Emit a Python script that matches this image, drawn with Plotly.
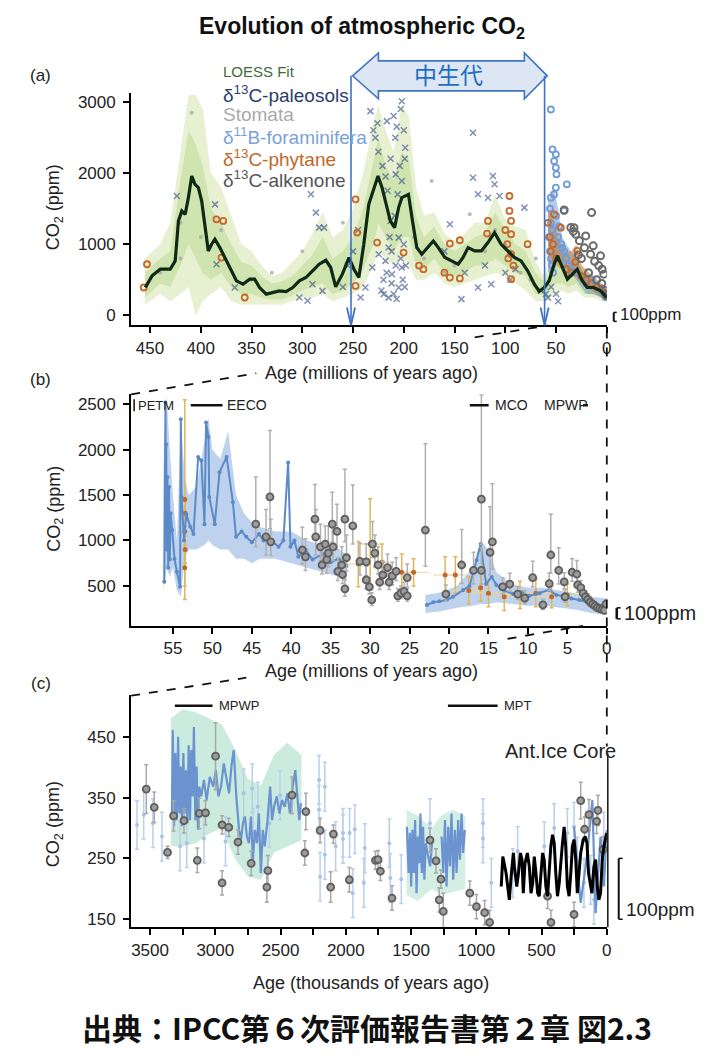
import plotly.graph_objects as go

W, H = 720, 1059
FONT = "Liberation Sans, Arial, sans-serif"
CJK = "Noto Sans CJK JP, sans-serif"

# ---------------- panel (a): 460 Myr ----------------
loess_age = [454.6, 448, 439.9, 430.1, 425.2, 422, 418.7, 415.4, 412.2, 408.9, 405.7, 402.4,
             399.1, 395.9, 392.6, 389.3, 386.1, 381.2, 376.3, 371.4, 364.9, 358.4, 351.8, 347,
             342.1, 335.5, 329, 322.5, 316, 309.4, 302.9, 296.4, 289.9, 283.4, 276.8, 272,
             267.1, 260.5, 254, 249.1, 244.3, 239.4, 234.5, 229.6, 225.4, 221.4, 218.2, 213.3,
             209.1, 205.1, 201.9, 195.4, 191.4, 187.2, 182.3, 175.8, 170.9, 166, 159.5, 153,
             146.4, 141.6, 136.7, 130.1, 123.6, 117.1, 110.6, 104.1, 97.5, 91, 84.5, 78, 71.4,
             66.6, 61.7, 56.8, 51.9, 48.6, 43.7, 38.8, 33.9, 29.1, 24.2, 19.3, 12.7, 6.2, 0]
loess_co2 = [392, 556, 649, 649, 766, 1327, 1467, 1420, 1654, 1958, 1841, 1794,
             1607, 1233, 906, 1000, 1070, 953, 813, 673, 486, 439, 509, 509,
             392, 299, 322, 345, 336, 392, 486, 532, 626, 719, 775, 673,
             402, 579, 813, 649, 532, 999, 1560, 1794, 1958, 1794, 1607, 1327,
             1233, 1514, 1654, 1701, 1327, 953, 860, 976, 1046, 953, 813, 766,
             719, 813, 953, 906, 906, 1023, 1163, 999, 906, 813, 766, 626, 439,
             336, 392, 486, 719, 836, 673, 509, 579, 649, 486, 392, 392, 345, 252]

band_a_age = [455, 440, 430, 420, 412, 405, 398, 390, 380, 370, 360, 350, 340, 330, 320, 310,
              300, 290, 280, 270, 260, 250, 240, 230, 225, 218, 210, 202, 195, 188, 180, 170,
              160, 150, 140, 130, 120, 110, 100, 90, 80, 70, 62, 56, 50, 44, 38, 30, 22, 12, 5, 0]
band_a_outer_hi = [800, 1000, 1300, 2300, 3100, 3100, 2900, 2000, 1800, 1400, 1000, 900, 700, 550,
                   600, 750, 900, 1150, 1450, 1100, 1200, 1500, 2000, 2700, 2950, 2600, 2300, 2950,
                   2800, 1800, 1400, 1450, 1150, 1050, 1150, 1300, 1300, 1700, 1350, 1250, 1200,
                   750, 550, 700, 1400, 1000, 800, 900, 650, 550, 450, 380]
band_a_outer_lo = [150, 300, 200, 300, 400, 0, 200, 300, 400, 200, 150, 150, 150, 150, 150, 200,
                   250, 250, 300, 200, 250, 300, 400, 700, 900, 800, 700, 800, 700, 500, 500, 600,
                   450, 400, 450, 500, 550, 600, 550, 450, 350, 200, 200, 250, 300, 350, 300, 350,
                   250, 250, 200, 180]
band_a_inner_hi = [600, 800, 900, 1900, 2600, 2400, 2100, 1500, 1300, 1000, 750, 700, 550, 450,
                   480, 550, 700, 850, 1100, 800, 900, 1100, 1500, 2200, 2500, 2100, 1900, 2300,
                   2200, 1400, 1100, 1250, 1000, 900, 1000, 1100, 1150, 1450, 1200, 1000, 900,
                   600, 480, 600, 1100, 850, 650, 780, 550, 470, 400, 320]
band_a_inner_lo = [250, 450, 400, 700, 1000, 800, 600, 500, 600, 400, 300, 300, 250, 220, 220, 280,
                   350, 400, 450, 300, 350, 450, 650, 1000, 1300, 1100, 900, 1100, 1100, 700, 650,
                   800, 600, 550, 600, 700, 700, 800, 700, 600, 550, 300, 280, 350, 450, 450, 400,
                   450, 300, 300, 250, 200]

foram_band_age = [58, 52, 48, 44, 40, 35, 30, 25, 20, 15, 10, 5, 0]
foram_band_hi = [1600, 1800, 1500, 1100, 1000, 900, 800, 650, 550, 600, 500, 450, 350]
foram_band_lo = [600, 700, 800, 700, 650, 600, 500, 400, 300, 300, 280, 250, 200]
phyt_band_age = [58, 54, 50, 45, 40, 35, 30, 25, 20, 15, 10, 5, 0]
phyt_band_hi = [1500, 1400, 1200, 1000, 900, 900, 1000, 700, 650, 550, 450, 400, 350]
phyt_band_lo = [700, 800, 700, 650, 600, 550, 580, 450, 400, 350, 300, 250, 220]

paleosol_age = [232.9, 228, 216.6, 208.4, 201.9, 201.9, 198.6, 208, 215, 218, 211.7, 205, 219.8,
                212, 202, 205, 213, 224.7, 231, 237.8, 242.6, 210, 207, 203, 200, 199, 204, 206,
                209, 214, 217, 220, 222, 210, 207, 215, 203, 200, 198, 201, 199, 225, 221, 218,
                216, 213, 230, 226, 212, 208, 131.8, 126.9, 131.8, 112.2, 110.6, 117.1, 105.7,
                81.2, 154.6, 143.2, 126.9, 113.9, 291.5, 286.6, 283.4, 278.5, 386, 423.6, 302.9,
                294.8, 280.1, 290, 366.5, 384.5, 120, 100, 95, 90, 140, 160, 60, 58, 55, 50, 65,
                48, 245, 250, 255, 260]
paleosol_co2 = [2869, 2495, 2729, 2495, 3009, 1888, 2355, 1981, 953, 766, 579, 392, 299,
                450, 673, 1093, 1327, 860, 673, 392, 252, 2800, 2650, 2900, 2600, 2200, 2100, 1700,
                1400, 1100, 600, 500, 350, 300, 230, 250, 800, 1000, 700, 500, 400, 2300, 2100, 1950,
                1750, 2200, 2600, 2700, 900, 700, 2565, 1701, 1934, 1958, 1841, 1654, 1677,
                1514, 1280, 229, 392, 439, 1701, 1444, 1233, 1233, 1560, 1677, 252,
                205, 345, 439, 392, 719, 700, 600, 500, 650, 600, 900, 300, 250, 400, 300, 350,
                200, 1200, 900, 700, 400]

stomata_age = [408.9, 172.5, 135, 100, 90, 85, 75, 120, 150, 180, 190, 260, 300, 330, 350, 380,
               420, 440, 60, 40, 30, 20, 10, 5, 160, 110, 95, 70, 420, 400]
stomata_co2 = [2845, 1888, 1420, 1000, 800, 600, 500, 900, 700, 800, 1100, 1300, 900, 600, 500,
               1200, 800, 600, 400, 600, 700, 500, 350, 300, 600, 1200, 900, 800, 1300, 1100]

foram_age = [55.1, 53.5, 50.2, 51.9, 50.2, 49.6, 39.4, 50.2, 55.1, 42.1, 56, 55, 54, 53, 52, 56,
             55, 54, 53, 50, 48, 45, 42, 40, 35, 30, 20, 15, 10, 5, 2, 1, 57, 47, 44, 38]
foram_co2 = [2892, 2331, 2261, 2168, 2075, 1981, 1841, 1794, 1654, 1467, 1500, 1300, 1200, 1000,
             1700, 900, 800, 700, 600, 1400, 1100, 1000, 900, 800, 650, 600, 450, 500, 400, 350,
             300, 260, 1100, 1250, 950, 700]

phytane_age = [247.5, 245.9, 226.3, 200.2, 154.6, 144.8, 154.6, 144.8, 180.7, 95.9, 95.9, 94.3,
               94.3, 94.3, 94.3, 117.1, 118, 78, 52, 53, 45.3, 29, 31, 384.5, 377.9, 379.6, 456.2,
               453, 356.7, 247.5, 185, 160, 100, 98, 97, 92, 58, 56, 55, 50, 40, 35, 25, 20, 15,
               10, 5, 2]
phytane_co2 = [1631, 1163, 1023, 883, 1009, 1056, 532, 520, 649, 1677, 1467, 1327,
               1140, 860, 509, 1327, 1150, 1000, 1420, 1000, 1233, 906, 750, 1350, 1327, 813, 392,
               719, 252, 415, 700, 600, 1200, 1000, 800, 700, 1300, 1100, 900, 800, 650, 600, 550,
               500, 450, 400, 380, 320]

alk_a_age = [15, 42, 35.5, 33, 30.6, 20.8, 13.4, 6.2, 4.6, 3, 32.3, 27, 22, 16, 12, 8, 25, 28, 18,
             10, 5, 2, 1, 0.5]
alk_a_co2 = [1444, 1480, 1234, 1180, 1140, 1117, 977, 837, 649, 580, 1233, 1050, 950, 860, 760,
             700, 800, 850, 600, 500, 450, 350, 300, 280]

mesozoic_bounds = [252, 61.3]

# ---------------- panel (b): 60 Myr ----------------
b_boron_age = [56.1, 55.95, 55.9, 55.85, 55.8, 55.7, 55.6, 55.5, 55.4, 55.3, 55.1, 54.8, 54.5, 54.1,
               54.0, 53.9, 53.6, 53.3, 52.8, 52.4, 51.8, 51.4, 51.0, 50.8, 50.5, 50.4, 49.7, 49.1,
               48.2, 47.4, 47.0, 46.3, 45.7, 45.0, 44.1, 43.5, 42.9, 42.3, 41.6, 41.0, 40.4, 40.1,
               39.6, 39.1, 38.2, 37.3, 36.0, 35.0, 34.0, 33.0, None, 22.8, 22.0, 21.2, 20.3, 19.5,
               18.2, 17.4, 16.5, 16.0, 15.3, 14.6, 14.0, 13.0, 11.9, 10.8, 9.8, 8.5, 7.3, 6.4, 5.6,
               4.5, 3.5, 2.5, 1.5, 0.3]
b_boron_co2 = [545, 2520, 1200, 2060, 900, 1700, 700, 1590, 790, 1300, 1115, 800, 655, 490,
               2335, 1480, 1000, 1290, 1150, 1070, 1920, 1880, 1180, 2300, 2140, 1480, 1180, 1750,
               1920, 1420, 1040, 1100, 1040, 980, 1070, 1000, 1040, 980, 930, 1000, 1860, 930,
               1000, 820, 900, 790, 850, 760, 800, 720, None, 290, 320, 330, 345, 380,
               455, 500, 785, 960, 520, 600, 510, 450, 410, 430, 390, 420, 455, 400, 390,
               360, 345, 320, 270, 300]

b_band1_age = [56.2, 55.8, 55.4, 55.0, 54.5, 54.0, 53.5, 53.0, 52.0, 51.0, 50.5, 50.0, 49.0, 48.0,
               47.0, 46.0, 45.0, 44.0, 42.0, 40.0, 38.0, 36.0, 34.0, 33.0]
b_band1_hi = [1800, 2600, 2000, 1500, 1000, 2300, 1700, 1500, 1600, 2100, 2350, 2000, 1900, 2200,
              1500, 1300, 1200, 1150, 1100, 1100, 1000, 950, 900, 850]
b_band1_lo = [450, 700, 600, 700, 450, 380, 800, 900, 900, 950, 1000, 950, 900, 900, 800, 800,
              750, 800, 800, 750, 700, 650, 600, 550]
b_band2_age = [23, 21, 19, 17, 16, 15, 14, 12, 10, 8, 6, 4, 2, 0]
b_band2_hi = [400, 430, 500, 700, 1000, 900, 650, 520, 480, 480, 450, 420, 380, 360]
b_band2_lo = [200, 220, 260, 280, 300, 300, 320, 300, 280, 280, 260, 240, 200, 180]

b_alk_age = [44.5, 42.7, 43.2, 42.6, 38.6, 38.2, 37.0, 36.9, 36.3, 36.1, 35.7, 35.5, 35.3, 34.8,
             34.7, 34.2, 34.1, 33.6, 33.5, 33.2, 33.0, 33.2, 32.2, 31.3, 30.5, 30.5, 30.1, 29.8,
             29.7, 29.4, 29.0, 28.8, 28.4, 27.8, 27.6, 27.2, 26.7, 26.5, 26.1, 25.7, 25.3, 25.3,
             23.0, 20.4, 18.4, 16.9, 15.9, 15.9, 14.8, 14.5, 13.2, 12.3, 11.3, 10.4, 9.4, 8.1,
             7.3, 7.1, 6.1, 5.4, 5.3, 4.4, 3.8, 3.7, 3.3, 3.0, 2.7, 2.4, 2.1, 1.8, 1.5, 1.2, 0.9,
             0.6, 0.3, 0.1]
b_alk_co2 = [1180, 1480, 1040, 985, 895, 820, 1235, 1040, 930, 730, 960, 790, 860, 1180,
             930, 1100, 660, 730, 625, 1235, 810, 467, 1160, 770, 765, 565, 490, 345,
             960, 860, 730, 540, 620, 700, 540, 610, 660, 390, 420, 440, 390, 590,
             1115, 410, 730, 670, 1455, 670, 870, 985, 490, 520, 410, 365, 590, 290,
             525, 840, 670, 545, 380, 650, 630, 510, 480, 420, 380, 350, 320, 300, 280, 260, 250,
             240, 230, 300]
b_alk_up = [520, 730, 300, 250, 250, 200, 380, 300, 250, 200, 200, 200, 300, 350,
            200, 300, 150, 200, 150, 550, 250, 100, 450, 200, 200, 150, 100, 80,
            250, 200, 200, 100, 150, 150, 100, 150, 150, 80, 80, 100, 80, 150,
            950, 100, 390, 200, 1150, 250, 500, 640, 100, 120, 80, 80, 180, 60,
            120, 450, 250, 100, 80, 150, 150, 100, 80, 80, 60, 60, 60, 50, 50, 40, 40,
            40, 40, 50]
b_alk_dn = [250, 350, 200, 150, 150, 150, 200, 200, 150, 100, 150, 150, 150, 200,
            150, 200, 100, 100, 100, 250, 150, 80, 200, 150, 150, 100, 80, 60,
            150, 150, 100, 80, 100, 100, 80, 100, 100, 60, 60, 60, 60, 100,
            400, 80, 200, 150, 500, 150, 250, 300, 80, 80, 60, 60, 100, 50,
            80, 200, 150, 80, 60, 100, 100, 80, 60, 60, 50, 50, 50, 40, 40, 40, 40,
            30, 30, 40]

b_phyt_age = [53.5, 53.45, 53.5, 53.45, 53.5, 31.5, 30.0, 28.5, 26.0, 24.5, 20.5, 19.2, 17.5, 16.0,
              15.0, 13.0, 11.0, 9.0, 7.0, 5.0]
b_phyt_co2 = [1450, 1300, 1100, 900, 700, 740, 960, 760, 650, 650, 620, 620, 450, 480,
              420, 380, 400, 420, 380, 400]
b_phyt_yerr = [1100, 150, 150, 150, 200, 250, 500, 200, 200, 150, 200, 200, 150, 150,
               150, 150, 150, 150, 120, 120]
b_phyt_xerr = [0.1, 0.1, 0.1, 0.1, 0.1, 1.5, 1.5, 1.0, 2.0, 2.0, 1.5, 1.5, 2.0, 1.0,
               2.0, 2.0, 2.0, 2.0, 2.0, 1.5]

# ---------------- panel (c): 3.6 Myr (kyr) ----------------
c_boron_age = [3333, 3326, 3316, 3306, 3295, 3285, 3275, 3265, 3255, 3245, 3235, 3224, 3214, 3204,
               3194, 3184, 3174, 3164, 3153, 3143, 3133, 3123, 3108, 3087, 3067, 3042, 3016, 2996,
               2976, 2956, 2935, 2915, 2895, 2874, 2859, 2839, 2818, 2803, 2788, 2773, 2758, 2742,
               2727, 2712, 2697, 2681, 2666, 2651, 2636, 2621, 2600, 2580, 2565, 2550, 2529, 2509,
               2489, 2468, 2448, 2428, 2407, 2387, 2372, 2357, 2344, None,
               1532, 1519, 1509, 1499, 1489, 1479, 1469, 1458, 1448, 1438, 1428, 1418, 1408, 1398,
               1387, 1372, 1354, 1337, None,
               1266, 1253, 1240, 1228, 1215, 1202, 1190, 1177, 1164, 1151, 1139, 1126, 1113, 1101,
               1088, None, 251, 200, 149, 111, 86, 48, 22, 0]
c_boron_co2 = [319, 461, 303, 423, 313, 450, 324, 401, 303, 423, 324, 395, 308, 436,
               313, 428, 352, 466, 313, 401, 297, 368, 352, 379, 346, 384, 368, 395,
               352, 368, 406, 379, 357, 406, 428, 352, 297, 281, 308, 319, 286, 275,
               319, 248, 297, 275, 324, 226, 297, 270, 313, 368, 313, 335, 352, 324,
               346, 335, 357, 324, 368, 395, 357, 313, 341, None,
               302, 226, 292, 204, 297, 226, 313, 193, 286, 242, 324, 226, 302, 215,
               275, 259, 237, 281, None,
               286, 226, 313, 204, 302, 237, 324, 215, 297, 226, 313, 248, 324, 259,
               297, None, 302, 177, 259, 346, 160, 286, 204, 297]

c_band_age = [3340, 3250, 3150, 3050, 2950, 2850, 2750, 2650, 2550, 2450, 2340]
c_band_hi = [480, 495, 490, 480, 470, 430, 380, 370, 420, 440, 420]
c_band_lo = [270, 270, 275, 290, 300, 250, 220, 215, 260, 270, 280]
c_band2_age = [1535, 1450, 1340, 1270, 1180, 1085]
c_band2_hi = [330, 320, 300, 320, 330, 320]
c_band2_lo = [190, 180, 200, 190, 195, 200]

c_alk_age = [3529, 3468, 3366, 3320, 3240, 3138, 3123, 3075, 2998, 2948, 2948, 2897, 2826, 2725,
             2597, 2605, 2412, 2306, 2314, 2197, 2095, 2116, 1973, 1773, 1753, 1735, 1646, 1355,
             1309, 1271, 1284, 1253, 1050, 999, 936, 898, 454, 428, 251, 200, 170, 137, 68, 78, 28]
c_alk_co2 = [364, 334, 260, 320, 312, 247, 324, 325, 418, 210, 305, 301, 277, 242,
             230, 203, 354, 327, 259, 296, 290, 203, 215, 247, 248, 229, 185, 280,
             246, 216, 182, 163, 193, 171, 161, 145, 188, 145, 158, 345, 298, 322, 329, 311, 265]
c_alk_err = [40, 25, 10, 25, 20, 20, 25, 20, 55, 20, 15, 15, 20, 20,
             25, 25, 30, 30, 20, 20, 15, 25, 20, 15, 15, 15, 20, 20,
             20, 15, 20, 30, 20, 20, 20, 20, 20, 20, 20, 30, 20, 25, 25, 20, 20]

c_bpt_age = [3600, 3549, 3478, 3409, 3270, 3219, 3087, 2922, 2783, 2717, 2712, 2674, 2585, 2504,
             2205, 2205, 2197, 2161, 2161, 2078, 2022, 2022, 1971, 1946, 1931, 1862, 1854, 1667,
             1659, 1575, 1355, 949, 949, 885, 721, 683, 479, 403, 302, 251, 226, 175, 124, 99, 23]
c_bpt_co2 = [305, 322, 308, 286, 270, 275, 283, 278, 357, 365, 292, 335, 308, 354,
             379, 330, 220, 368, 256, 270, 292, 282, 292, 193, 298, 210, 267, 275,
             218, 216, 308, 308, 283, 210, 226, 262, 270, 300, 292, 302, 245, 210, 215, 182, 286]

ice_age = [809, 797, 772, 759, 747, 731, 716, 708, 690, 677, 662, 650, 640, 627, 609, 594, 581,
           568, 556, 543, 530, 518, 505, 492, 480, 467, 454, 442, 429, 416, 403, 391, 378, 365,
           352, 340, 327, 315, 302, 289, 276, 264, 251, 238, 226, 213, 200, 181, 165, 152, 140,
           127, 114, 99, 86, 73, 61, 48, 35, 22, 10, 0]
ice_co2 = [204, 253, 226, 204, 182, 226, 259, 237, 204, 226, 259, 248, 193, 242, 259, 237, 193,
           209, 253, 226, 193, 188, 226, 259, 248, 204, 188, 226, 270, 289, 275, 226, 188, 209,
           248, 275, 302, 270, 204, 188, 226, 270, 281, 248, 193, 226, 259, 281, 286, 275, 226,
           209, 193, 237, 248, 204, 182, 193, 248, 270, 286, 292]

c_major_ticks = [3500, 3000, 2500, 2000, 1500, 1000, 500, 0]
c_minor_ticks = [3250, 2750, 2250, 1750, 1250, 750, 250]

fig = go.Figure()


def band(xs, lo, hi, color, xa, ya):
    fig.add_trace(go.Scatter(x=xs + xs[::-1], y=hi + lo[::-1], fill="toself", fillcolor=color,
                             line=dict(width=0), mode="lines", hoverinfo="skip",
                             xaxis=xa, yaxis=ya, showlegend=False))


def open_pts(xs, ys, color, size, width, xa, ya):
    fig.add_trace(go.Scatter(x=xs, y=ys, mode="markers", xaxis=xa, yaxis=ya, showlegend=False,
                             marker=dict(symbol="circle-open", size=size, color=color,
                                         line=dict(width=width, color=color))))


# panel (a)
band(band_a_age, band_a_outer_lo, band_a_outer_hi, "rgba(215,232,180,0.6)", "x", "y")
band(band_a_age, band_a_inner_lo, band_a_inner_hi, "rgba(180,212,135,0.45)", "x", "y")
band(foram_band_age, foram_band_lo, foram_band_hi, "rgba(90,140,205,0.45)", "x", "y")
band(phyt_band_age, phyt_band_lo, phyt_band_hi, "rgba(200,110,40,0.45)", "x", "y")
fig.add_trace(go.Scatter(x=stomata_age, y=stomata_co2, mode="markers", xaxis="x", yaxis="y",
                         marker=dict(symbol="circle", size=4, color="rgba(160,160,160,0.7)"),
                         showlegend=False))
fig.add_trace(go.Scatter(x=paleosol_age, y=paleosol_co2, mode="markers", xaxis="x", yaxis="y",
                         marker=dict(symbol="x-thin", size=6, color="rgba(45,70,130,0.6)",
                                     line=dict(width=1.5, color="rgba(45,70,130,0.6)")),
                         showlegend=False))
open_pts(foram_age, foram_co2, "#6f9bd6", 6, 1.8, "x", "y")
open_pts(phytane_age, phytane_co2, "#c8692a", 6, 1.8, "x", "y")
open_pts(alk_a_age, alk_a_co2, "#6a6a6a", 7, 2, "x", "y")
fig.add_trace(go.Scatter(x=loess_age, y=loess_co2, mode="lines", xaxis="x", yaxis="y",
                         line=dict(color="#0e2a14", width=3.2), showlegend=False))

# panel (b)
band(b_band1_age, b_band1_lo, b_band1_hi, "rgba(110,155,215,0.45)", "x2", "y2")
band(b_band2_age, b_band2_lo, b_band2_hi, "rgba(110,155,215,0.45)", "x2", "y2")
fig.add_trace(go.Scatter(x=b_phyt_age, y=b_phyt_co2, mode="markers", xaxis="x2", yaxis="y2",
                         marker=dict(size=5, color="#c0692b"),
                         error_y=dict(type="data", array=b_phyt_yerr, color="#e2b657",
                                      thickness=1.5, width=2),
                         error_x=dict(type="data", array=b_phyt_xerr, color="#efd496",
                                      thickness=1.2, width=0),
                         showlegend=False))
fig.add_trace(go.Scatter(x=b_boron_age, y=b_boron_co2, mode="lines+markers", xaxis="x2", yaxis="y2",
                         line=dict(color="#5b8ac8", width=2), marker=dict(size=4, color="#5b8ac8"),
                         showlegend=False))
fig.add_trace(go.Scatter(x=b_alk_age, y=b_alk_co2, mode="markers", xaxis="x2", yaxis="y2",
                         marker=dict(size=7, color="#9d9d9d", line=dict(width=1.8, color="#5e5e5e")),
                         error_y=dict(type="data", symmetric=False, array=b_alk_up,
                                      arrayminus=b_alk_dn, color="#b0b0b0", thickness=1.5, width=2),
                         showlegend=False))

# panel (c)
band(c_band_age, c_band_lo, c_band_hi, "rgba(160,218,196,0.55)", "x3", "y3")
band(c_band2_age, c_band2_lo, c_band2_hi, "rgba(160,218,196,0.45)", "x3", "y3")
fig.add_trace(go.Scatter(x=c_bpt_age, y=c_bpt_co2, mode="markers", xaxis="x3", yaxis="y3",
                         marker=dict(size=4, color="#a9c3e6"),
                         error_y=dict(type="constant", value=40, color="#b9d0ec",
                                      thickness=1.5, width=2),
                         showlegend=False))
fig.add_trace(go.Scatter(x=c_boron_age, y=c_boron_co2, mode="lines", xaxis="x3", yaxis="y3",
                         line=dict(color="#6b93cf", width=2.2), showlegend=False))
fig.add_trace(go.Scatter(x=c_alk_age, y=c_alk_co2, mode="markers", xaxis="x3", yaxis="y3",
                         marker=dict(size=7, color="#9d9d9d", line=dict(width=1.8, color="#5e5e5e")),
                         error_y=dict(type="data", array=c_alk_err, color="#a8a8a8",
                                      thickness=1.5, width=2),
                         showlegend=False))
fig.add_trace(go.Scatter(x=ice_age, y=ice_co2, mode="lines", xaxis="x3", yaxis="y3",
                         line=dict(color="black", width=3), showlegend=False))


def px(v):
    return v / W


def py(v):
    return 1 - v / H


axis_common = dict(showline=True, linecolor="black", linewidth=2, ticks="outside", ticklen=6,
                   tickwidth=2, tickcolor="black", showgrid=False, zeroline=False,
                   tickfont=dict(family=FONT, size=17, color="#222"))
yaxis_common = dict(axis_common, ticklabelstandoff=4)

fig.update_layout(
    width=W, height=H, margin=dict(l=0, r=0, t=0, b=0),
    paper_bgcolor="white", plot_bgcolor="white",
    font=dict(family=FONT, color="#222"),
    xaxis=dict(domain=[px(124), px(603)], anchor="y", range=[468.6, 0],
               tickvals=[450, 400, 350, 300, 250, 200, 150, 100, 50, 0], **axis_common),
    yaxis=dict(domain=[py(318), py(85)], anchor="x", range=[-140, 3126],
               tickvals=[0, 1000, 2000, 3000], **yaxis_common),
    xaxis2=dict(domain=[px(124), px(603)], anchor="y2", range=[60.3, 0],
                tickvals=[55, 50, 45, 40, 35, 30, 25, 20, 15, 10, 5, 0], **axis_common),
    yaxis2=dict(domain=[py(619), py(387)], anchor="x2", range=[60, 2610],
                tickvals=[500, 1000, 1500, 2000, 2500], **yaxis_common),
    xaxis3=dict(domain=[px(124), px(603)], anchor="y3", range=[3645, 0],
                tickvals=c_major_ticks,
                minor=dict(tickvals=c_minor_ticks, ticks="outside", ticklen=6, tickwidth=2,
                           tickcolor="black"),
                **axis_common),
    yaxis3=dict(domain=[py(921), py(688)], anchor="x3", range=[137, 519],
                tickvals=[150, 250, 350, 450], **yaxis_common),
)

ann = []


def text(x, y, s, size=17, color="#222", anchor="center", family=FONT, angle=0, bold=False):
    if bold:
        s = "<b>" + s + "</b>"
    ann.append(dict(x=px(x), y=py(y), xref="paper", yref="paper", text=s, showarrow=False,
                    xanchor=anchor, yanchor="middle", textangle=angle,
                    font=dict(family=family, size=size, color=color)))


text(356, 20, "Evolution of atmospheric CO<sub>2</sub>", size=23, color="#111", bold=True)
text(33, 68, "(a)", 17)
text(33, 372, "(b)", 17)
text(33, 677, "(c)", 17)

# legend of panel (a)
text(214, 64, "LOESS Fit", 15, "#3f6b3a", "left")
text(214, 86, "δ<sup>13</sup>C-paleosols", 19, "#2b3d6e", "left")
text(214, 107, "Stomata", 19, "#a9a9a9", "left")
text(214, 128, "δ<sup>11</sup>B-foraminifera", 19, "#7aa2d8", "left")
text(214, 150, "δ<sup>13</sup>C-phytane", 19, "#c0692b", "left")
text(214, 171, "δ<sup>13</sup>C-alkenone", 19, "#555555", "left")

# axis titles
for yc in (200, 502, 818):
    text(47, yc, "CO<sub>2</sub> (ppm)", 18, angle=-90)
text(366, 366, "Age (millions of years ago)", 18)
text(366, 664, "Age (millions of years ago)", 18)
text(366, 977, "Age (thousands of years ago)", 18)

# event labels
text(129, 398, "PETM", 13, anchor="left")
text(219, 398, "EECO", 14, anchor="left")
text(488, 398, "MCO", 14, anchor="left")
text(538, 398, "MPWP", 14, anchor="left")
text(210, 699, "MPWP", 13, anchor="left")
text(497, 699, "MPT", 13, anchor="left")
text(556, 744, "Ant.Ice Core", 20)

# scale bars
text(614, 307, "100ppm", 17, anchor="left")
text(618, 606, "100ppm", 20, anchor="left")
text(620, 903, "100ppm", 19, anchor="left")

# mesozoic label
text(444, 66, "中生代", 23, "#1f6cc4", family=CJK)

# caption
text(362, 1021, "出典：IPCC第６次評価報告書第２章 図2.3", 30, "#111", family=CJK, bold=True)

fig.update_layout(annotations=ann)

shapes = []


def seg(x0, y0, x1, y1, dash="dash", width=1.8, color="#111"):
    shapes.append(dict(type="line", xref="paper", yref="paper", x0=px(x0), y0=py(y0),
                       x1=px(x1), y1=py(y1), line=dict(color=color, width=width, dash=dash)))


# zoom connectors
seg(124, 387, 250, 366)
seg(470, 330, 544, 318)
seg(124, 689, 240, 671)
seg(503, 632, 579, 619)
seg(603, 322, 603, 740)
seg(604, 747, 604, 921, dash="solid", width=1.5)

# event bars
seg(127, 392, 127, 404, dash="solid", width=1.5)
seg(184, 398, 216, 398, dash="solid", width=2.5)
seg(465, 398, 484, 398, dash="solid", width=2.5)
seg(579, 398, 584, 398, dash="solid", width=2.5)
seg(168, 699, 206, 699, dash="solid", width=2.5)
seg(443, 699, 493, 699, dash="solid", width=2.5)

# 100 ppm brackets
seg(610, 305, 610, 314, dash="solid", width=2)
seg(610, 305, 613, 305, dash="solid", width=1.5)
seg(610, 314, 613, 314, dash="solid", width=1.5)
seg(613, 601, 613, 612, dash="solid", width=2.5)
seg(613, 601, 617, 601, dash="solid", width=1.5)
seg(613, 612, 617, 612, dash="solid", width=1.5)
seg(615, 852, 615, 913, dash="solid", width=2)
seg(615, 852, 619, 852, dash="solid", width=1.5)
seg(615, 913, 619, 913, dash="solid", width=1.5)

# Mesozoic bounds: vertical lines with arrowheads down to the age axis
for age in mesozoic_bounds:
    shapes.append(dict(type="line", xref="x", yref="paper", x0=age, x1=age,
                       y0=py(68), y1=py(317), line=dict(color="#3f73c6", width=1.6)))
    shapes.append(dict(type="path", xref="x", yref="paper",
                       path=f"M {age + 4},{py(300):.4f} L {age},{py(318):.4f} L {age - 4},{py(300):.4f}",
                       line=dict(color="#3f73c6", width=1.8)))

# Mesozoic double arrow
arrow_pts = [(347, 68), (373, 45), (373, 53), (520, 53), (520, 45), (543, 68),
             (520, 91), (520, 83), (373, 83), (373, 91)]
path = "M " + " L ".join(f"{px(a):.4f},{py(b):.4f}" for a, b in arrow_pts) + " Z"
shapes.append(dict(type="path", xref="paper", yref="paper", path=path,
                   fillcolor="#dde7f4", line=dict(color="#3f73c6", width=1.6), layer="below"))

fig.update_layout(shapes=shapes)

fig.write_html("out.html")
